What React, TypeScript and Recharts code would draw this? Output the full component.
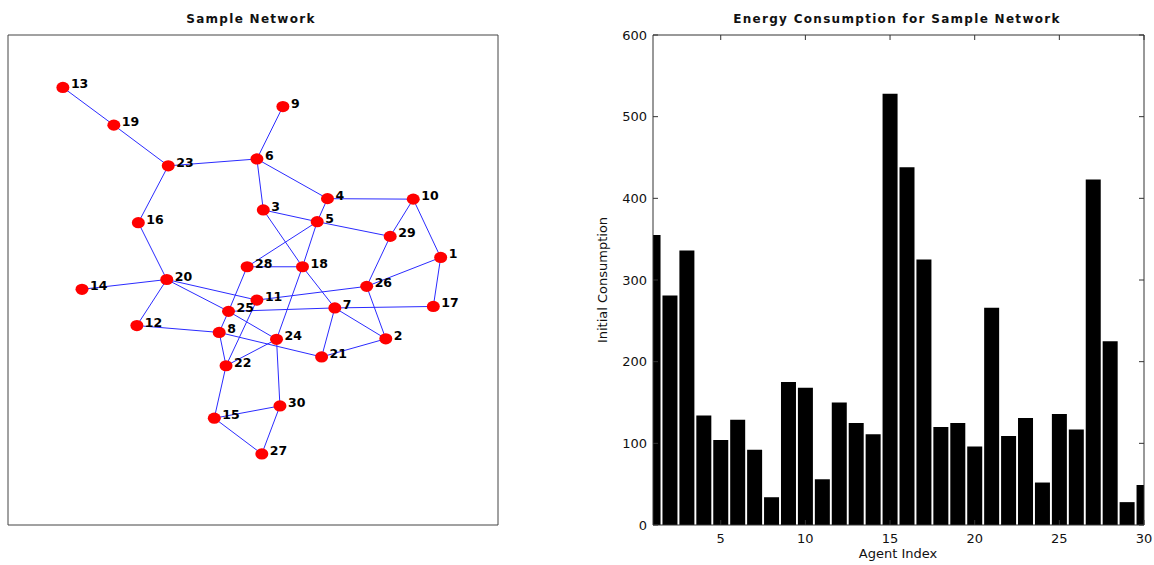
import React from 'react';
import { ScatterChart, Scatter, XAxis, YAxis, ReferenceArea, BarChart, Bar } from 'recharts';

// ---------- Network data (positions, 0..100 box units) ----------
const nodeIds = [1, 2, 3, 4, 5, 6, 7, 8, 9, 10, 11, 12, 13, 14, 15, 16, 17, 18, 19, 20, 21, 22, 23, 24, 25, 26, 27, 28, 29, 30];
const nodeX = [88.3, 77.1, 52.1, 65.2, 63.1, 50.8, 66.7, 43.1, 56.1, 82.7, 50.8, 26.3, 11.2, 15.1, 42.1, 26.6, 86.8, 60.1, 21.6, 32.4, 64.0, 44.5, 32.7, 54.8, 45.0, 73.2, 51.8, 48.8, 78.0, 55.5];
const nodeY = [54.6, 38.0, 64.3, 66.6, 61.9, 74.7, 44.3, 39.3, 85.4, 66.5, 45.9, 40.7, 89.3, 48.1, 21.8, 61.7, 44.6, 52.7, 81.6, 50.1, 34.3, 32.5, 73.3, 37.9, 43.6, 48.7, 14.5, 52.7, 58.9, 24.3];
const edges: [number, number][] = [
  [13, 19], [19, 23], [23, 6], [6, 9], [23, 16], [16, 20], [6, 4], [6, 3], [4, 10], [4, 5],
  [3, 5], [3, 18], [5, 29], [5, 28], [5, 18], [10, 29], [10, 1], [29, 26], [1, 26], [1, 17],
  [28, 18], [28, 25], [18, 24], [18, 7], [20, 14], [20, 12], [20, 11], [20, 25], [11, 26], [11, 22],
  [25, 7], [7, 17], [25, 24], [25, 8], [12, 8], [8, 22], [8, 21], [24, 22], [24, 30], [22, 15],
  [15, 30], [15, 27], [30, 27], [7, 21], [7, 2], [26, 2], [21, 2],
];

// ---------- Energy data ----------
const agentIndex = [1, 2, 3, 4, 5, 6, 7, 8, 9, 10, 11, 12, 13, 14, 15, 16, 17, 18, 19, 20, 21, 22, 23, 24, 25, 26, 27, 28, 29, 30];
const initialConsumption = [355, 281, 336, 134, 104, 129, 92, 34, 175, 168, 56, 150, 125, 111, 528, 438, 325, 120, 125, 96, 266, 109, 131, 52, 136, 117, 423, 225, 28, 49];
const xTicks = [5, 10, 15, 20, 25, 30];
const yTicks = [0, 100, 200, 300, 400, 500, 600];

const nodes = nodeIds.map((id, i) => ({ id, x: nodeX[i], y: nodeY[i] }));
const nodeById = (id: number) => nodes[nodeIds.indexOf(id)];
const edgeData = edges.map(([a, b]) => [nodeById(a), nodeById(b)]);
const barData = agentIndex.map((a, i) => ({ agent: a, value: initialConsumption[i] }));

const AX = '#333';
const EDGE = '#2b2bff';
const tickFont = { fontFamily: '"DejaVu Sans", sans-serif', fontSize: 13, fill: '#111' };
const titleFont = { fontFamily: '"DejaVu Sans", sans-serif', fontSize: 12, fontWeight: 700, fill: '#111', letterSpacing: 1.3 };

const BottomTick = (p: any) => (
  <g>
    <line x1={p.x} x2={p.x} y1={p.y} y2={p.y - 5} stroke={AX} />
    <text x={p.x} y={p.y + 18} textAnchor="middle" {...tickFont}>{p.payload.value}</text>
  </g>
);
const LeftTick = (p: any) => (
  <g>
    <line x1={p.x} x2={p.x + 5} y1={p.y} y2={p.y} stroke={AX} />
    <text x={p.x - 6} y={p.y + 4.5} textAnchor="end" {...tickFont}>{p.payload.value}</text>
  </g>
);
const TopTick = (p: any) => <line x1={p.x} x2={p.x} y1={p.y} y2={p.y + 5} stroke={AX} />;
const RightTick = (p: any) => <line x1={p.x} x2={p.x - 5} y1={p.y} y2={p.y} stroke={AX} />;

const EmptyShape = () => <g />;
const NodeShape = (p: any) => <ellipse cx={p.cx} cy={p.cy} rx={6.5} ry={5.6} fill="#ff0000" />;
const NodeLabel = (p: any) => (
  <text x={p.cx + 8} y={p.cy + 1} fontFamily='"DejaVu Sans", sans-serif' fontSize={12.5} fontWeight={700} fill="#000">
    {p.payload.id}
  </text>
);

export default function App() {
  return (
    <div style={{ position: 'absolute', left: 0, top: 0, width: 1154, height: 565, background: '#fff' }}>
      <div style={{ position: 'absolute', left: 0, top: 0 }}>
        <ScatterChart width={520} height={565} margin={{ top: 35, right: 22, bottom: 40, left: 8 }}>
          <XAxis type="number" dataKey="x" domain={[0, 100]} hide allowDataOverflow />
          <YAxis type="number" dataKey="y" domain={[0, 100]} hide allowDataOverflow />
          <ReferenceArea x1={0} x2={100} y1={0} y2={100} fill="none" fillOpacity={0} stroke="#444" strokeWidth={1} ifOverflow="visible" />
          {edgeData.map((d, i) => (
            <Scatter key={'e' + i} data={d} line={{ stroke: EDGE, strokeWidth: 1 }} shape={EmptyShape} isAnimationActive={false} />
          ))}
          <Scatter data={nodes} shape={NodeShape} isAnimationActive={false} />
          <Scatter data={nodes} shape={NodeLabel} isAnimationActive={false} />
        </ScatterChart>
      </div>
      <div style={{ position: 'absolute', left: 580, top: 0 }}>
        <BarChart width={574} height={565} data={barData} margin={{ top: 35, right: 10, bottom: 0, left: 10 }}>
          <XAxis
            xAxisId="b"
            type="number"
            dataKey="agent"
            domain={[1, 30]}
            ticks={xTicks}
            interval={0}
            allowDataOverflow
            height={40}
            tickSize={0}
            tickMargin={0}
            tickLine={false}
            axisLine={{ stroke: AX }}
            tick={BottomTick}
          />
          <XAxis
            xAxisId="t"
            orientation="top"
            mirror
            type="number"
            dataKey="agent"
            domain={[1, 30]}
            ticks={xTicks}
            interval={0}
            allowDataOverflow
            height={20}
            tickSize={0}
            tickMargin={0}
            tickLine={false}
            axisLine={{ stroke: AX }}
            tick={TopTick}
          />
          <YAxis
            yAxisId="l"
            type="number"
            domain={[0, 600]}
            ticks={yTicks}
            interval={0}
            allowDataOverflow
            width={63}
            tickSize={0}
            tickMargin={0}
            tickLine={false}
            axisLine={{ stroke: AX }}
            tick={LeftTick}
          />
          <YAxis
            yAxisId="r"
            orientation="right"
            mirror
            type="number"
            domain={[0, 600]}
            ticks={yTicks}
            interval={0}
            allowDataOverflow
            width={20}
            tickSize={0}
            tickMargin={0}
            tickLine={false}
            axisLine={{ stroke: AX }}
            tick={RightTick}
          />
          <Bar xAxisId="t" yAxisId="r" dataKey="value" fill="#000" fillOpacity={0} stroke="none" barSize={15} isAnimationActive={false} />
          <Bar xAxisId="b" yAxisId="l" dataKey="value" fill="#000" barSize={15} isAnimationActive={false} />
        </BarChart>
      </div>
      <svg width={1154} height={565} style={{ position: 'absolute', left: 0, top: 0, pointerEvents: 'none' }}>
        <text x={251} y={23} textAnchor="middle" {...titleFont}>Sample Network</text>
        <text x={897} y={23} textAnchor="middle" {...titleFont}>Energy Consumption for Sample Network</text>
        <text x={898} y={558} textAnchor="middle" {...tickFont}>Agent Index</text>
        <text x={607} y={280} textAnchor="middle" transform="rotate(-90 607 280)" {...tickFont}>Initial Consumption</text>
      </svg>
    </div>
  );
}
